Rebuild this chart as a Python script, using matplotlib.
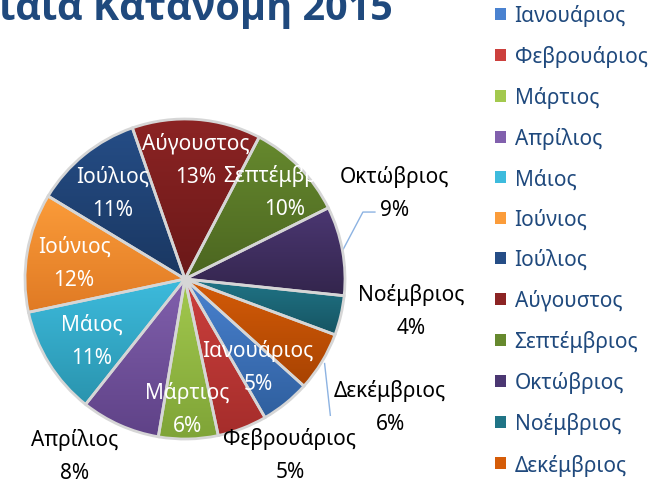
import numpy as np
import matplotlib.pyplot as plt
from matplotlib.patches import Patch
from matplotlib.colors import to_rgb

plt.rcParams['font.family'] = ['Noto Sans', 'DejaVu Sans']

months = ['Ιανουάριος', 'Φεβρουάριος', 'Μάρτιος', 'Απρίλιος', 'Μάιος', 'Ιούνιος',
          'Ιούλιος', 'Αύγουστος', 'Σεπτέμβριος', 'Οκτώβριος', 'Νοέμβριος', 'Δεκέμβριος']
shares = [5, 5, 6, 8, 11, 12, 11, 13, 10, 9, 4, 6]

# gradient ends for each slice (top -> bottom)
top_colors = ['#4a82d0', '#cc403d', '#a3c94e', '#8160ad', '#3dbbdd', '#fb9c3a',
              '#254d86', '#8c2424', '#66892e', '#4b3772', '#207486', '#d55c08']
bottom_colors = ['#2f5f9e', '#a52d2b', '#7fa437', '#5f4287', '#2a94ae', '#e07a24',
                 '#1a3761', '#6a1818', '#4b6520', '#33254c', '#165462', '#a84302']

# label placement: distance (fraction of radius) and angle shift from slice middle
label_r = [0.71, 1.28, 0.81, 1.30, 0.70, 0.70, 0.70, 0.75, 0.83, 1.42, 1.43, 1.51]
label_shift = [1, 9.8, 0, -8, 1.5, 1.3, 1, -0.8, -3.1, 12.3, 5.4, -0.6]
inside = [True, False, True, False, True, True, True, True, True, False, False, False]

W, H = 669, 481
fig = plt.figure(figsize=(W / 100, H / 100), dpi=100)
ax = fig.add_axes([0, 0, 1, 1])
cx, cy, R = 185, H - 280, 160

wedges, _ = ax.pie(shares, center=(cx, cy), radius=R, startangle=-42,
                   counterclock=False)
for w in wedges:
    w.set_facecolor('none')
    w.set_edgecolor('#d6d6d6')
    w.set_linewidth(2)
    w.set_zorder(3)

grad = np.linspace(0, 1, 256)[:, None, None]
for w, c0, c1 in zip(wedges, top_colors, bottom_colors):
    ext = w.get_path().get_extents()
    rgb = (1 - grad) * np.array(to_rgb(c0)) + grad * np.array(to_rgb(c1))
    im = ax.imshow(rgb, extent=(ext.x0, ext.x1, ext.y0, ext.y1), origin='upper',
                   aspect='auto', zorder=2, interpolation='bilinear')
    im.set_clip_path(w)

fs = 15
for i, w in enumerate(wedges):
    mid = (w.theta1 + w.theta2) / 2
    a = np.deg2rad(mid + label_shift[i])
    x = cx + label_r[i] * R * np.cos(a)
    y = cy + label_r[i] * R * np.sin(a)
    ax.text(x, y, f'{months[i]}\n{shares[i]}%', ha='center', va='center',
            color='white' if inside[i] else 'black', fontsize=fs,
            linespacing=1.75, zorder=4)
    # leader lines for Οκτώβριος and Δεκέμβριος
    if months[i] == 'Οκτώβριος':
        m = np.deg2rad(mid)
        ax.plot([cx + R * np.cos(m), x - 32, x - 20], [cy + R * np.sin(m), y - 20, y - 20],
                color='#8db3e2', lw=1, zorder=1)
    if months[i] == 'Δεκέμβριος':
        m = np.deg2rad(mid)
        ax.plot([cx + 1.02 * R * np.cos(m), x - 60], [cy + 1.02 * R * np.sin(m), y - 9],
                color='#8db3e2', lw=1, zorder=1)

# title runs off the top-left edge, as in the original
ax.text(393, H - 20, 'Μηνιαία Κατανομή 2015', ha='right', va='baseline',
        fontsize=28.5, fontweight='bold', color='#1f497d',
        family=['Open Sans', 'DejaVu Sans'])

handles = [Patch(facecolor=c, edgecolor='none') for c in top_colors]
ax.legend(handles, months, loc='upper left', bbox_to_anchor=(495 / W, (H - 5) / H),
          frameon=False, fontsize=fs, labelcolor='#1f497d', handlelength=0.52,
          handleheight=0.52, handletextpad=0.42, labelspacing=0.92,
          borderaxespad=0, borderpad=0)

ax.set_xlim(0, W)
ax.set_ylim(0, H)
ax.set_aspect('equal')
ax.axis('off')
fig.savefig('out.png', dpi=100)
